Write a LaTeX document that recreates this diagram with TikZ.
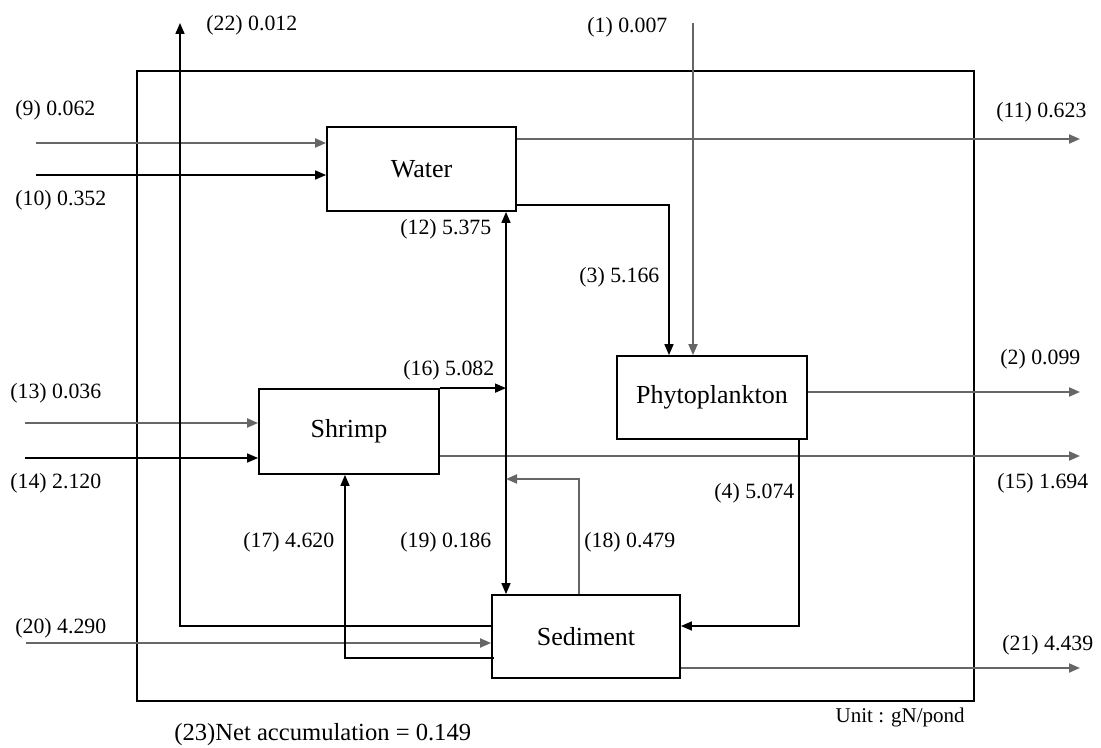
\documentclass[tikz,border=0pt]{standalone}
\usepackage{fontspec}
\setmainfont{Liberation Serif}
\usetikzlibrary{arrows.meta}

\begin{document}
\begin{tikzpicture}[x=0.5pt,y=-0.5pt,font=\fontsize{10.9}{13}\selectfont,
  comp/.style={draw,line width=0.9pt,minimum width=#1,minimum height=42pt,
    inner sep=0pt,font=\fontsize{13}{15}\selectfont},
  flow/.style={draw=black!60,line width=1pt},
  link/.style={draw=black,line width=0.8pt},
  tip/.style={-{Triangle[length=5.5pt,width=4.5pt]}},
  lab/.style={anchor=west,inner sep=0pt}]
\useasboundingbox (0,0) rectangle (1101,748);

% pond and compartments
\node[draw,line width=0.9pt,minimum width=418.5pt,minimum height=315pt] (pond) at (555.5,386) {};
\node[comp=94.5pt] (water) at (421.5,169) {Water};
\node[comp=95pt,minimum height=41.5pt] (phyto) at (712,397.5) {Phytoplankton};
\node[comp=90pt,minimum height=42.5pt] (shrimp) at (349,431.5) {Shrimp};
\node[comp=94pt,minimum height=41.5pt] (sed) at (586,636.5) {Sediment};

% free ends and bends
\coordinate (axis) at (506,0);
\coordinate (in1) at (693,23);
\coordinate (in9) at (36,143);
\coordinate (in10) at (36,175);
\coordinate (in13) at (25,423);
\coordinate (in14) at (25,458);
\coordinate (in20) at (26,643);
\coordinate (out11) at (1080,139);
\coordinate (out2) at (1080,392);
\coordinate (out15) at (1080,456);
\coordinate (out21) at (1080,668);
\coordinate (out22) at (180,23);
\coordinate (bend3) at (669,205);
\coordinate (bend4) at (799,626);
\coordinate (bend17) at (345,658);
\coordinate (bend18) at (579,479);
\coordinate (bend22) at (180,626);

% inputs
\draw[flow,tip] (in9) -- (in9 -| water.west);
\draw[link,tip] (in10) -- (in10 -| water.west);
\draw[flow,tip] (in13) -- (in13 -| shrimp.west);
\draw[link,tip] (in14) -- (in14 -| shrimp.west);
\draw[flow,tip] (in20) -- (in20 -| sed.west);
\draw[flow,tip] (in1) -- (in1 |- phyto.north);

% outputs
\draw[flow,tip] (out11 -| water.east) -- (out11);
\draw[flow,tip] (out2 -| phyto.east) -- (out2);
\draw[flow,tip] (out15 -| shrimp.east) -- (out15);
\draw[flow,tip] (out21 -| sed.east) -- (out21);
\draw[link,tip] (bend22 -| sed.west) -- (bend22) -- (out22);

% internal flows
\draw[link,tip] (bend3 -| water.east) -- (bend3) -- (bend3 |- phyto.north);
\draw[link,{Triangle[length=5.5pt,width=4.5pt]}-{Triangle[length=5.5pt,width=4.5pt]}]
  (axis |- sed.north) -- (axis |- water.south);
\draw[link,tip] (shrimp.north east) -- (shrimp.north east -| axis);
\draw[link,tip] (bend4 |- phyto.south) -- (bend4) -- (bend4 -| sed.east);
\draw[flow,tip] (bend18 |- sed.north) -- (bend18) -- (bend18 -| axis);
\draw[link,tip] ([xshift=1.5pt]bend17 -| sed.west) -- (bend17) -- (bend17 |- shrimp.south);

% labels
\node[lab] (l22) at (206,25) {(22) 0.012};
\node[lab] (l1) at (587,27) {(1) 0.007};
\node[lab] (l9) at (15,110) {(9) 0.062};
\node[lab] (l10) at (15,200) {(10) 0.352};
\node[lab] (l11) at (996,112) {(11) 0.623};
\node[lab] (l12) at (400,229) {(12) 5.375};
\node[lab] (l3) at (579,277) {(3) 5.166};
\node[lab] (l16) at (403,370) {(16) 5.082};
\node[lab] (l13) at (10,393) {(13) 0.036};
\node[lab] (l2) at (1000,359) {(2) 0.099};
\node[lab] (l14) at (10,483) {(14) 2.120};
\node[lab] (l15) at (997,483) {(15) 1.694};
\node[lab] (l4) at (714,493) {(4) 5.074};
\node[lab] (l17) at (243,542) {(17) 4.620};
\node[lab] (l19) at (400,542) {(19) 0.186};
\node[lab] (l18) at (584,542) {(18) 0.479};
\node[lab] (l20) at (15,628) {(20) 4.290};
\node[lab] (l21) at (1002,645) {(21) 4.439};
\node[anchor=east,inner sep=0pt,font=\fontsize{10.5}{12}\selectfont] (unit) at (965,717) {Unit : gN/pond};
\node[lab,font=\fontsize{12.3}{14}\selectfont] (net) at (174,735) {(23)Net accumulation = 0.149};
\end{tikzpicture}
\end{document}
